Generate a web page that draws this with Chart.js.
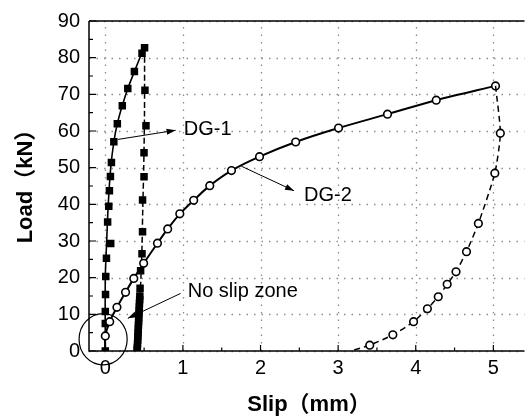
<!DOCTYPE html>
<html lang="en">
<head>
<meta charset="UTF-8">
<title>Load - Slip curves DG-1 / DG-2</title>
<script src="https://cdn.jsdelivr.net/npm/chart.js"></script>
<style>
    body { margin: 0; background: #fff; }
    canvas { display: block; }
</style>
</head>
<body>
<canvas id="loadSlip" width="530" height="419"></canvas>
<script>
    // ticks
    const xTicks = [0, 1, 2, 3, 4, 5];
    const xMinor = [0.5, 1.5, 2.5, 3.5, 4.5];
    const yTicks = [0, 10, 20, 30, 40, 50, 60, 70, 80, 90];
    const yMinor = [5, 15, 25, 35, 45, 55, 65, 75, 85];

    // DG-1 loading, measured points (squares)
    const dg1LoadSlip = [0, 0, 0, 0.003, 0.006, 0.015, 0.07, 0.03, 0.045, 0.053, 0.066, 0.079, 0.11, 0.155, 0.219, 0.29, 0.375, 0.473, 0.506];
    const dg1LoadLoad = [0, 7.5, 10.8, 15.4, 20.3, 25.3, 29.3, 35.2, 39.5, 43.7, 47.6, 51.4, 57.1, 62, 66.9, 71.6, 76.2, 81.2, 82.7];
    // DG-1 loading, drawn curve
    const dg1CurveSlip = [0, 0, 0.018, 0.038, 0.07, 0.11, 0.155, 0.22, 0.29, 0.375, 0.47, 0.506];
    const dg1CurveLoad = [0, 20, 30, 40, 50, 57, 62, 67, 71.6, 76.2, 81.2, 82.7];

    // DG-1 unloading, measured points (squares)
    const dg1UnloadSlip = [0.511, 0.524, 0.499, 0.499, 0.48, 0.48, 0.473, 0.455, 0.448, 0.445, 0.443, 0.44, 0.438, 0.436, 0.433, 0.431, 0.429, 0.427, 0.425, 0.422, 0.42, 0.418, 0.415, 0.413, 0.41];
    const dg1UnloadLoad = [71.1, 61.4, 54.1, 47.5, 41.2, 32.5, 26.5, 21.9, 17.1, 15, 14, 13, 12, 11, 10, 9, 8, 7, 6, 5, 4, 3, 2, 1, 0.3];
    // DG-1 unloading, drawn curve
    const dg1UnloadCurveSlip = [0.506, 0.505, 0.495, 0.482, 0.47, 0.448, 0.407];
    const dg1UnloadCurveLoad = [82.7, 65, 50, 38, 26, 15, 0];

    // DG-2 loading (circles)
    const dg2LoadSlip = [0, 0, 0.057, 0.15, 0.261, 0.367, 0.494, 0.672, 0.804, 0.96, 1.139, 1.346, 1.626, 1.987, 2.453, 3.005, 3.636, 4.264, 5.028];
    const dg2LoadLoad = [0, 4.1, 8, 11.9, 16, 19.8, 23.9, 29.4, 33.3, 37.4, 41.1, 45.1, 49.2, 53, 57, 60.8, 64.6, 68.4, 72.3];

    // DG-2 unloading (circles)
    const dg2UnloadSlip = [5.028, 5.09, 5.019, 4.807, 4.654, 4.519, 4.405, 4.29, 4.15, 3.972, 3.705, 3.407, 3.16];
    const dg2UnloadLoad = [72.3, 59.4, 48.5, 34.8, 27.1, 21.6, 18.2, 14.8, 11.5, 8, 4.4, 1.6, 0];

    const pts = (xs, ys) => xs.map((x, i) => ({ x: x, y: ys[i] }));

    const FONT = "'Liberation Sans', Arial, 'Noto Sans CJK SC', sans-serif";

    // annotations (text labels, arrows, ellipse), in data units
    const notes = [
        { text: 'DG-1', x: 1.012, y: 60.3 },
        { text: 'DG-2', x: 2.56, y: 42.5 },
        { text: 'No slip zone', x: 1.062, y: 16.1 }
    ];
    const arrows = [
        { from: [0.163, 57.7], to: [0.906, 60.2] },
        { from: [1.753, 50.4], to: [2.432, 43.7] },
        { from: [0.97, 15.7], to: [0.29, 8.9] }
    ];
    const zone = { x: -0.028, y: 3.2, rx: 0.31, ry: 7.0 };

    function arrowHead(ctx, x1, y1, x2, y2) {
        const a = Math.atan2(y2 - y1, x2 - x1);
        const len = 9, w = 3;
        ctx.beginPath();
        ctx.moveTo(x2, y2);
        ctx.lineTo(x2 - len * Math.cos(a) + w * Math.sin(a), y2 - len * Math.sin(a) - w * Math.cos(a));
        ctx.lineTo(x2 - len * Math.cos(a) - w * Math.sin(a), y2 - len * Math.sin(a) + w * Math.cos(a));
        ctx.closePath();
        ctx.fill();
    }

    const framePlugin = {
        id: 'frame',
        beforeDatasetsDraw(chart) {
            // dotted grid at the major ticks
            const ctx = chart.ctx;
            const xs = chart.scales.x, ys = chart.scales.y;
            const area = chart.chartArea;
            ctx.save();
            ctx.strokeStyle = '#8c8c8c';
            ctx.lineWidth = 1.3;
            ctx.setLineDash([1.5, 6]);
            ctx.beginPath();
            xTicks.forEach(v => { const p = Math.round(xs.getPixelForValue(v)) + 0.5; ctx.moveTo(p, area.bottom); ctx.lineTo(p, area.top); });
            yTicks.forEach(v => { const p = Math.round(ys.getPixelForValue(v)) + 0.5; ctx.moveTo(area.left, p); ctx.lineTo(area.right, p); });
            ctx.stroke();
            ctx.restore();
        },
        afterDraw(chart) {
            const ctx = chart.ctx;
            const xs = chart.scales.x, ys = chart.scales.y;
            const area = chart.chartArea;
            ctx.save();
            ctx.strokeStyle = '#000';
            ctx.fillStyle = '#000';

            // frame lines
            ctx.lineWidth = 1.5;
            ctx.beginPath();
            ctx.moveTo(area.left, area.top);
            ctx.lineTo(area.right, area.top);
            ctx.moveTo(area.left, area.top);
            ctx.lineTo(area.left, area.bottom);
            ctx.lineTo(area.right, area.bottom);
            ctx.stroke();

            // inward ticks
            ctx.lineWidth = 1.2;
            ctx.beginPath();
            xTicks.forEach(v => { const p = xs.getPixelForValue(v); ctx.moveTo(p, area.bottom); ctx.lineTo(p, area.bottom - 6); });
            xMinor.forEach(v => { const p = xs.getPixelForValue(v); ctx.moveTo(p, area.bottom); ctx.lineTo(p, area.bottom - 3.5); });
            yTicks.forEach(v => { const p = ys.getPixelForValue(v); ctx.moveTo(area.left, p); ctx.lineTo(area.left + 7, p); });
            yMinor.forEach(v => { const p = ys.getPixelForValue(v); ctx.moveTo(area.left, p); ctx.lineTo(area.left + 4, p); });
            ctx.stroke();

            // arrows
            ctx.lineWidth = 1;
            arrows.forEach(a => {
                const x1 = xs.getPixelForValue(a.from[0]), y1 = ys.getPixelForValue(a.from[1]);
                const x2 = xs.getPixelForValue(a.to[0]), y2 = ys.getPixelForValue(a.to[1]);
                ctx.beginPath();
                ctx.moveTo(x1, y1);
                ctx.lineTo(x2, y2);
                ctx.stroke();
                arrowHead(ctx, x1, y1, x2, y2);
            });

            // no slip zone ellipse
            const cx = xs.getPixelForValue(zone.x), cy = ys.getPixelForValue(zone.y);
            const rx = Math.abs(xs.getPixelForValue(zone.x + zone.rx) - cx);
            const ry = Math.abs(ys.getPixelForValue(zone.y + zone.ry) - cy);
            ctx.lineWidth = 1.2;
            ctx.beginPath();
            ctx.ellipse(cx, cy, rx, ry, 0, 0, Math.PI * 2);
            ctx.stroke();

            // labels
            ctx.font = '20px ' + FONT;
            ctx.textAlign = 'left';
            ctx.textBaseline = 'middle';
            notes.forEach(n => ctx.fillText(n.text, xs.getPixelForValue(n.x), ys.getPixelForValue(n.y)));

            // axis titles
            ctx.font = 'bold 22px ' + FONT;
            ctx.textAlign = 'center';
            ctx.fillText('Slip（mm）', 309, 405);
            ctx.translate(26, 181);
            ctx.rotate(-Math.PI / 2);
            ctx.fillText('Load（kN）', 0, 0);
            ctx.restore();
        }
    };

    const ctx = document.getElementById('loadSlip').getContext('2d');
    new Chart(ctx, {
        type: 'scatter',
        data: {
            datasets: [
                {
                    label: 'DG-2 unloading',
                    data: pts(dg2UnloadSlip, dg2UnloadLoad),
                    showLine: true,
                    borderColor: '#000',
                    borderWidth: 1.5,
                    borderDash: [6, 4],
                    tension: 0.2,
                    pointStyle: 'circle',
                    pointRadius: c => (c.dataIndex === 0 || c.dataIndex === dg2UnloadSlip.length - 1) ? 0 : 3.8,
                    pointBackgroundColor: '#fff',
                    pointBorderColor: '#000',
                    pointBorderWidth: 1.6
                },
                {
                    label: 'DG-2',
                    data: pts(dg2LoadSlip, dg2LoadLoad),
                    showLine: true,
                    borderColor: '#000',
                    borderWidth: 2,
                    tension: 0.3,
                    pointStyle: 'circle',
                    pointRadius: c => c.dataIndex === 0 ? 0 : 3.8,
                    pointBackgroundColor: '#fff',
                    pointBorderColor: '#000',
                    pointBorderWidth: 1.6
                },
                {
                    label: 'DG-1 points',
                    data: pts(dg1LoadSlip, dg1LoadLoad),
                    showLine: false,
                    pointStyle: 'rect',
                    pointRadius: 5.3,
                    pointBackgroundColor: '#000',
                    pointBorderColor: '#000',
                    pointBorderWidth: 0
                },
                {
                    label: 'DG-1 unloading points',
                    data: pts(dg1UnloadSlip, dg1UnloadLoad),
                    showLine: false,
                    pointStyle: 'rect',
                    pointRadius: 5.3,
                    pointBackgroundColor: '#000',
                    pointBorderColor: '#000',
                    pointBorderWidth: 0
                },
                {
                    label: 'DG-1',
                    data: pts(dg1CurveSlip, dg1CurveLoad),
                    showLine: true,
                    borderColor: '#000',
                    borderWidth: 1.6,
                    tension: 0.3,
                    pointRadius: 0
                },
                {
                    label: 'DG-1 unloading',
                    data: pts(dg1UnloadCurveSlip, dg1UnloadCurveLoad),
                    showLine: true,
                    borderColor: '#000',
                    borderWidth: 1.5,
                    borderDash: [6, 3],
                    tension: 0.3,
                    pointRadius: 0
                }
            ]
        },
        options: {
            responsive: false,
            animation: false,
            layout: { padding: { top: 21, right: 0, bottom: 0, left: 0 } },
            plugins: {
                legend: { display: false },
                tooltip: { enabled: false }
            },
            scales: {
                x: {
                    type: 'linear',
                    min: -0.21,
                    max: 5.4,
                    afterBuildTicks: s => { s.ticks = xTicks.map(v => ({ value: v })); },
                    afterFit: s => { s.height = 68; },
                    grid: { display: false, drawTicks: false },
                    border: { display: false },
                    ticks: { color: '#000', padding: 5, font: { family: FONT, size: 20 } }
                },
                y: {
                    type: 'linear',
                    min: 0,
                    max: 90,
                    afterBuildTicks: s => { s.ticks = yTicks.map(v => ({ value: v })); },
                    afterFit: s => { s.width = 89; },
                    grid: { display: false, drawTicks: false },
                    border: { display: false },
                    ticks: { color: '#000', padding: 9, font: { family: FONT, size: 20 } }
                }
            }
        },
        plugins: [framePlugin]
    });
</script>
</body>
</html>
